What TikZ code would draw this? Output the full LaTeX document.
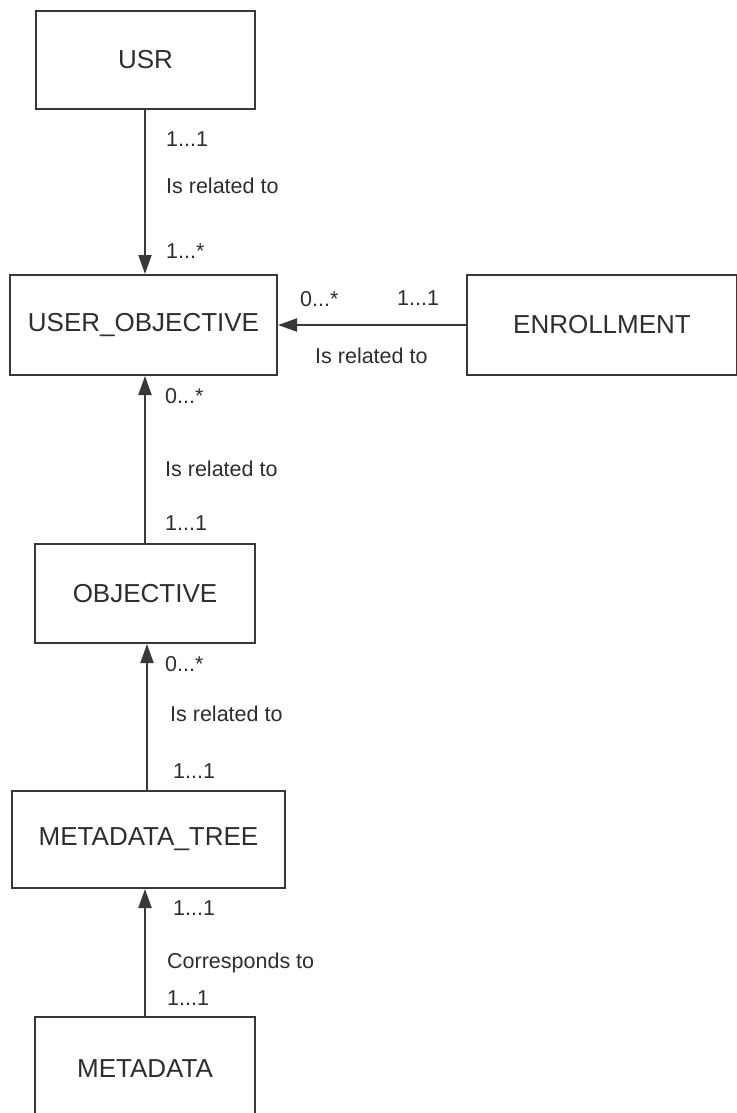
\documentclass[tikz,border=0pt]{standalone}
\usepackage{fontspec}
\setmainfont{Liberation Sans}
\usetikzlibrary{arrows.meta}
\definecolor{ink}{HTML}{2E2E2E}
\definecolor{edge}{HTML}{383838}
\begin{document}
\begin{tikzpicture}[x=1pt,y=-1pt,
  entity/.style={draw=edge, line width=2pt, fill=white, inner sep=0pt,
    text=ink, font=\fontsize{26}{30}\selectfont},
  rel/.style={draw=edge, line width=2pt,
    -{Triangle[length=19pt,width=13pt]}},
  card/.style={anchor=base west, inner sep=0pt, text=ink,
    font=\fontsize{21.5}{25}\selectfont}]
  \fill[white] (0,0) rectangle (736,1113);
  \useasboundingbox (0,0) rectangle (736,1113);

  % entities
  \node[entity, minimum width=219pt, minimum height=98pt] (usr) at (145.5,60) {USR};
  \node[entity, minimum width=267pt, minimum height=100pt] (uobj) at (143.5,325) {USER\_OBJECTIVE};
  \node[entity, minimum width=270pt, minimum height=100pt] (enr) at (602,325) {ENROLLMENT};
  \node[entity, minimum width=220pt, minimum height=99pt] (obj) at (145,593.5) {OBJECTIVE};
  \node[entity, minimum width=273pt, minimum height=97pt] (mtree) at (148.5,839.5) {METADATA\_TREE};
  \node[entity, minimum width=220pt, minimum height=104pt] (meta) at (145,1069) {METADATA};

  % relationships
  \draw[rel] (usr.south -| 145,0) -- (uobj.north -| 145,0);
  \draw[rel] (enr.west) -- (uobj.east);
  \draw[rel] (obj.north -| 145,0) -- (uobj.south -| 145,0);
  \draw[rel] (mtree.north -| 147,0) -- (obj.south -| 147,0);
  \draw[rel] (meta.north -| 145,0) -- (mtree.south -| 145,0);

  % cardinalities and role names
  \node[card] (c1) at (166,146.5) {1...1};
  \node[card] (l1) at (166,193) {Is related to};
  \node[card] (c2) at (166,258) {1...*};

  \node[card] (c3) at (300,306) {0...*};
  \node[card] (c4) at (397,305) {1...1};
  \node[card] (l2) at (315,363) {Is related to};

  \node[card] (c5) at (165,403) {0...*};
  \node[card] (l3) at (165,476) {Is related to};
  \node[card] (c6) at (165,530) {1...1};

  \node[card] (c7) at (165,671) {0...*};
  \node[card] (l4) at (170,721) {Is related to};
  \node[card] (c8) at (173,778) {1...1};

  \node[card] (c9) at (173,915) {1...1};
  \node[card] (l5) at (167,968) {Corresponds to};
  \node[card] (c10) at (167,1005) {1...1};
\end{tikzpicture}
\end{document}
